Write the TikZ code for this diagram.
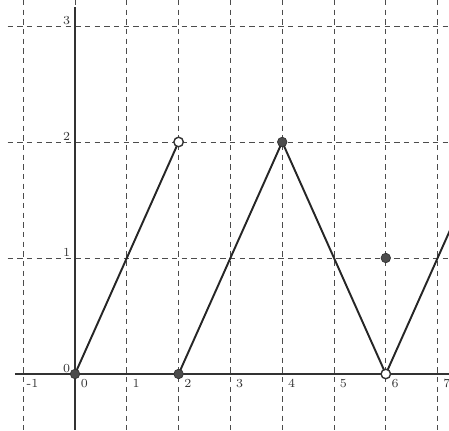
\documentclass[tikz,border=0pt]{standalone}
\usepackage{amsmath,amssymb}
\usetikzlibrary{calc,positioning}
\tikzset{
  gridline/.style={
    draw = black!70,
    dash pattern=on 3pt off 2.5pt,
    line width=0.5pt
  },
  axisline/.style={
    draw = black!80,
    line width=0.8pt
  },
  graphline/.style={
    draw = black!85,
    line width=1.1pt
  },
  closedpt/.style={
    inner sep = 0pt,
    minimum size = 0.19cm,
    shape = circle,
    draw = black!80,
    fill = black!70
  },
  openpt/.style={
    inner sep = 0pt,
    minimum size = 0.19cm,
    shape = circle,
    draw = black!80,
    fill = white,
    line width=0.8pt
  },
  ticklabel/.style={
    font = \scriptsize,
    inner sep = 1pt,
    text = black!80
  }
}

\begin{document}
\begin{tikzpicture}[x=1.036cm,y=2.32cm]
  \useasboundingbox (-1.448,-0.483) rectangle (7.22,3.224);
  \clip (-1.448,-0.483) rectangle (7.22,3.224);
  % grid
  \foreach \x in {-1,...,7}{
    \draw[gridline] (\x,3.224) -- (\x,-0.483);
  }
  \foreach \y in {1,2,3}{
    \draw[gridline] (-1.3,\y) -- (7.22,\y);
  }
  % axes
  \draw[axisline] (-1.16,0) -- (7.22,0);
  \draw[axisline] (0,3.16) -- (0,-0.483);
  \foreach \x in {-1,...,7}{
    \node[ticklabel] (xl\x) at (\x+0.18,-0.08) {\x};
  }
  \foreach \y in {0,...,3}{
    \node[ticklabel] (yl\y) at (-0.16,\y+0.045) {\y};
  }
  % graph
  \coordinate (a) at (0,0);
  \coordinate (b) at (2,2);
  \coordinate (c) at (2,0);
  \coordinate (d) at (4,2);
  \coordinate (e) at (6,0);
  \coordinate (f) at (7.4,1.4);
  \draw[graphline] (a) -- (b);
  \draw[graphline] (c) -- (d) -- (e) -- (f);
  \node[closedpt] (pa) at (a) {};
  \node[openpt] (pb) at (b) {};
  \node[closedpt] (pc) at (c) {};
  \node[closedpt] (pd) at (d) {};
  \node[openpt] (pe) at (e) {};
  \node[closedpt] (pf) at (6,1) {};
\end{tikzpicture}
\end{document}
